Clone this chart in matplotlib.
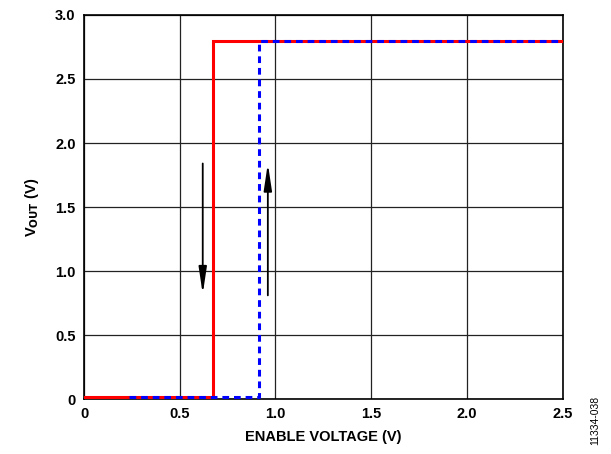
import numpy as np
import matplotlib.pyplot as plt

plt.rcParams['font.family'] = ['Liberation Sans', 'DejaVu Sans']
plt.rcParams['font.weight'] = 'bold'

# enable falling (red) and rising (blue) sweeps
red_x = [0.0, 0.673, 0.673, 2.5]
red_y = [0.015, 0.015, 2.8, 2.8]
blue_x = [0.235, 0.913, 0.913, 2.5]
blue_y = [0.015, 0.015, 2.8, 2.8]

xticks = [0, 0.5, 1.0, 1.5, 2.0, 2.5]
xlabels = ["0", "0.5", "1.0", "1.5", "2.0", "2.5"]
yticks = [0, 0.5, 1.0, 1.5, 2.0, 2.5, 3.0]
ylabels = ["0", "0.5", "1.0", "1.5", "2.0", "2.5", "3.0"]

fig = plt.figure(figsize=(6.11, 4.54), dpi=100)
ax = fig.add_axes([0.1375, 0.121, 0.7835, 0.846])

ax.plot(red_x, red_y, color="#ff0000", lw=2.2, solid_joinstyle="miter", zorder=3)
ax.plot(blue_x, blue_y, color="#0000ff", lw=2.2, linestyle=(0, (2.2, 1.6)), zorder=4)

astyle = "-|>,head_length=1.6,head_width=0.24"
ax.annotate("", xy=(0.62, 0.82), xytext=(0.62, 1.84),
            arrowprops=dict(arrowstyle=astyle, color="black", lw=1.3, shrinkA=0, shrinkB=0))
ax.annotate("", xy=(0.96, 1.84), xytext=(0.96, 0.81),
            arrowprops=dict(arrowstyle=astyle, color="black", lw=1.3, shrinkA=0, shrinkB=0))

ax.set_xlim(0, 2.5)
ax.set_ylim(0, 3.0)
ax.set_xticks(xticks)
ax.set_xticklabels(xlabels)
ax.set_yticks(yticks)
ax.set_yticklabels(ylabels)
ax.tick_params(length=0, labelsize=10.5, pad=6)
ax.grid(True, color="#222222", lw=0.9)
for s in ax.spines.values():
    s.set_linewidth(1.2)

ax.set_xlabel("ENABLE VOLTAGE (V)", fontsize=10.5, fontweight="bold", labelpad=6)
ax.set_ylabel(r"V$_{\mathbf{OUT}}$ (V)", fontsize=10.5, fontweight="bold", labelpad=10)

fig.text(0.974, 0.075, "11334-038", rotation=90, fontsize=7.5, fontweight="normal",
         ha="center", va="center")

fig.savefig("out.png", dpi=100)
